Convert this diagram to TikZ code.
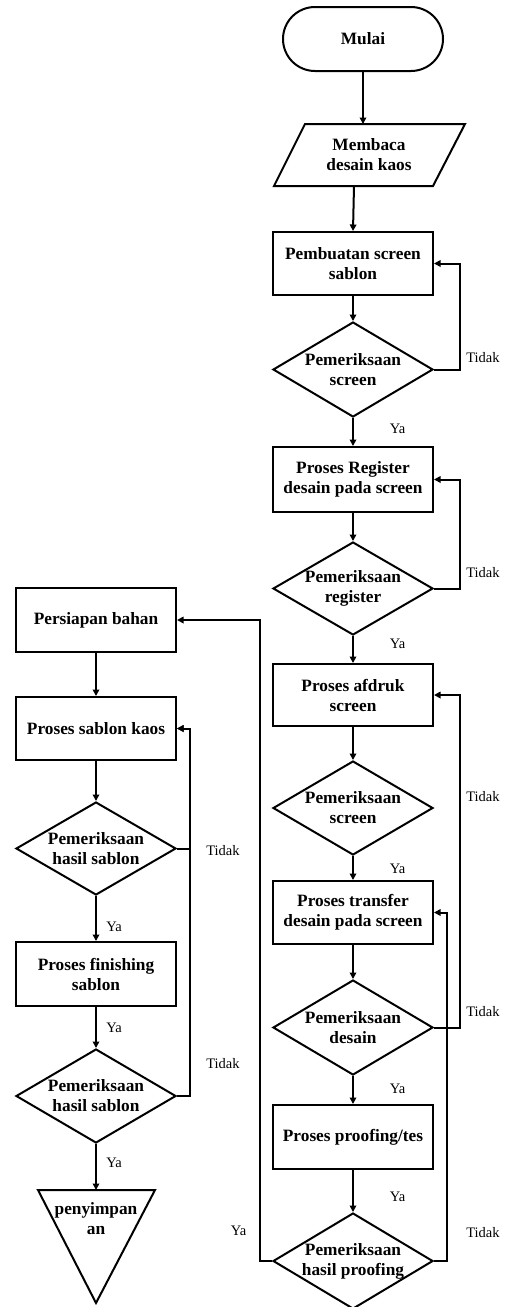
\documentclass[tikz,border=0pt]{standalone}
\usepackage{fontspec}
\setmainfont{Liberation Serif}
\usetikzlibrary{arrows.meta,shapes.geometric}
\tikzset{
  line/.style={line width=2pt},
  arr/.style={line width=2pt,-{Triangle[length=6.5pt,width=6.5pt]}},
  boxnode/.style={draw,line width=2pt,rectangle,minimum width=160pt,inner sep=0pt,align=center,font=\fontsize{17.3}{20}\selectfont\bfseries},
  dia/.style={draw,line width=2pt,diamond,minimum width=160pt,inner sep=0pt},
  dtext/.style={align=center,inner sep=0pt,font=\fontsize{17.3}{20}\selectfont\bfseries},
  lbl/.style={anchor=base,inner sep=0pt,font=\fontsize{14.5}{16}\selectfont}
}
\begin{document}
\begin{tikzpicture}[x=1pt,y=-1pt]
\useasboundingbox (0,0) rectangle (505,1307);
% right column
\node[boxnode,minimum height=64pt,rounded corners=32pt] (start) at (363,39) {Mulai};
\coordinate (paratop) at (363,124);
\coordinate (parabot) at (354,186);
\draw[line] (274,186) -- (305,124) -- (465,124) -- (433,186) -- cycle;
\node[dtext] (para) at (369,155) {Membaca\\desain kaos};
\node[boxnode,minimum height=63pt] (b1) at (353,263.5) {Pembuatan screen\\sablon};
\node[dia,minimum height=95pt,label={[dtext]center:{Pemeriksaan\\screen}}] (d1) at (353,369.5) {};
\node[boxnode,minimum height=65pt] (b2) at (353,479.5) {Proses Register\\desain pada screen};
\node[dia,minimum height=93pt,label={[dtext]center:{Pemeriksaan\\register}}] (d2) at (353,588.5) {};
\node[boxnode,minimum height=62pt] (b3) at (353,695) {Proses afdruk\\screen};
\node[dia,minimum height=94pt,label={[dtext]center:{Pemeriksaan\\screen}}] (d3) at (353,808) {};
\node[boxnode,minimum height=63pt] (b4) at (353,912.5) {Proses transfer\\desain pada screen};
\node[dia,minimum height=95pt,label={[dtext]center:{Pemeriksaan\\desain}}] (d4) at (353,1027.5) {};
\node[boxnode,minimum height=64pt] (b5) at (353,1137) {Proses proofing/tes};
\node[dia,minimum height=96pt,label={[dtext]center:{Pemeriksaan\\hasil proofing}}] (d5) at (353,1261) {};
% left column
\node[boxnode,minimum height=64pt] (l1) at (96,620) {Persiapan bahan};
\node[boxnode,minimum height=63pt] (l2) at (96,728.5) {Proses sablon kaos};
\node[dia,minimum height=93pt,label={[dtext]center:{Pemeriksaan\\hasil sablon}}] (l3) at (96,848.5) {};
\node[boxnode,minimum height=64pt] (l4) at (96,974) {Proses finishing\\sablon};
\node[dia,minimum height=94pt,label={[dtext]center:{Pemeriksaan\\hasil sablon}}] (l5) at (96,1096) {};
\coordinate (tritop) at (96,1190);
\draw[line,line join=miter] (38,1190) -- (155,1190) -- (96,1303) -- cycle;
\node[dtext] (tri) at (96,1219) {penyimpan\\an};
% main flow
\draw[arr] (start.south) -- (paratop);
\draw[arr] (parabot) -- (b1.north);
\draw[arr] (b1) -- (d1);
\draw[arr] (d1) -- (b2);
\draw[arr] (b2) -- (d2);
\draw[arr] (d2) -- (b3);
\draw[arr] (b3) -- (d3);
\draw[arr] (d3) -- (b4);
\draw[arr] (b4) -- (d4);
\draw[arr] (d4) -- (b5);
\draw[arr] (b5) -- (d5);
\draw[arr] (l1) -- (l2);
\draw[arr] (l2) -- (l3);
\draw[arr] (l3) -- (l4);
\draw[arr] (l4) -- (l5);
\draw[arr] (l5.south) -- (tritop);
% loops
\draw[arr] (d1.east) -- ++(26,0) |- (b1.east);
\draw[arr] (d2.east) -- ++(26,0) |- (b2.east);
\draw[arr] (d4.east) -- ++(26,0) |- (b3.east);
\draw[arr] (d5.east) -- ++(13,0) |- (b4.east);
\draw[arr] (d5.west) -- ++(-12,0) |- (l1.east);
\draw[arr] (l3.east) -- ++(13,0) |- (l2.east);
\draw[arr] (l5.east) -- ++(13,0) |- (l2.east);
% labels
\node[lbl] (t1) at (483,362) {Tidak};
\node[lbl] (t2) at (483,577.7) {Tidak};
\node[lbl] (t3) at (483,801) {Tidak};
\node[lbl] (t4) at (483,1016) {Tidak};
\node[lbl] (t5) at (483,1237.7) {Tidak};
\node[lbl] (t6) at (223,855) {Tidak};
\node[lbl] (t7) at (223,1068) {Tidak};
\node[lbl] (y1) at (397.5,433) {Ya};
\node[lbl] (y2) at (397.5,648) {Ya};
\node[lbl] (y3) at (397.5,873) {Ya};
\node[lbl] (y4) at (397.5,1093) {Ya};
\node[lbl] (y5) at (397.5,1201) {Ya};
\node[lbl] (y6) at (114,931) {Ya};
\node[lbl] (y7) at (114,1032) {Ya};
\node[lbl] (y8) at (114,1167) {Ya};
\node[lbl] (y9) at (238.5,1235.7) {Ya};
\end{tikzpicture}
\end{document}
